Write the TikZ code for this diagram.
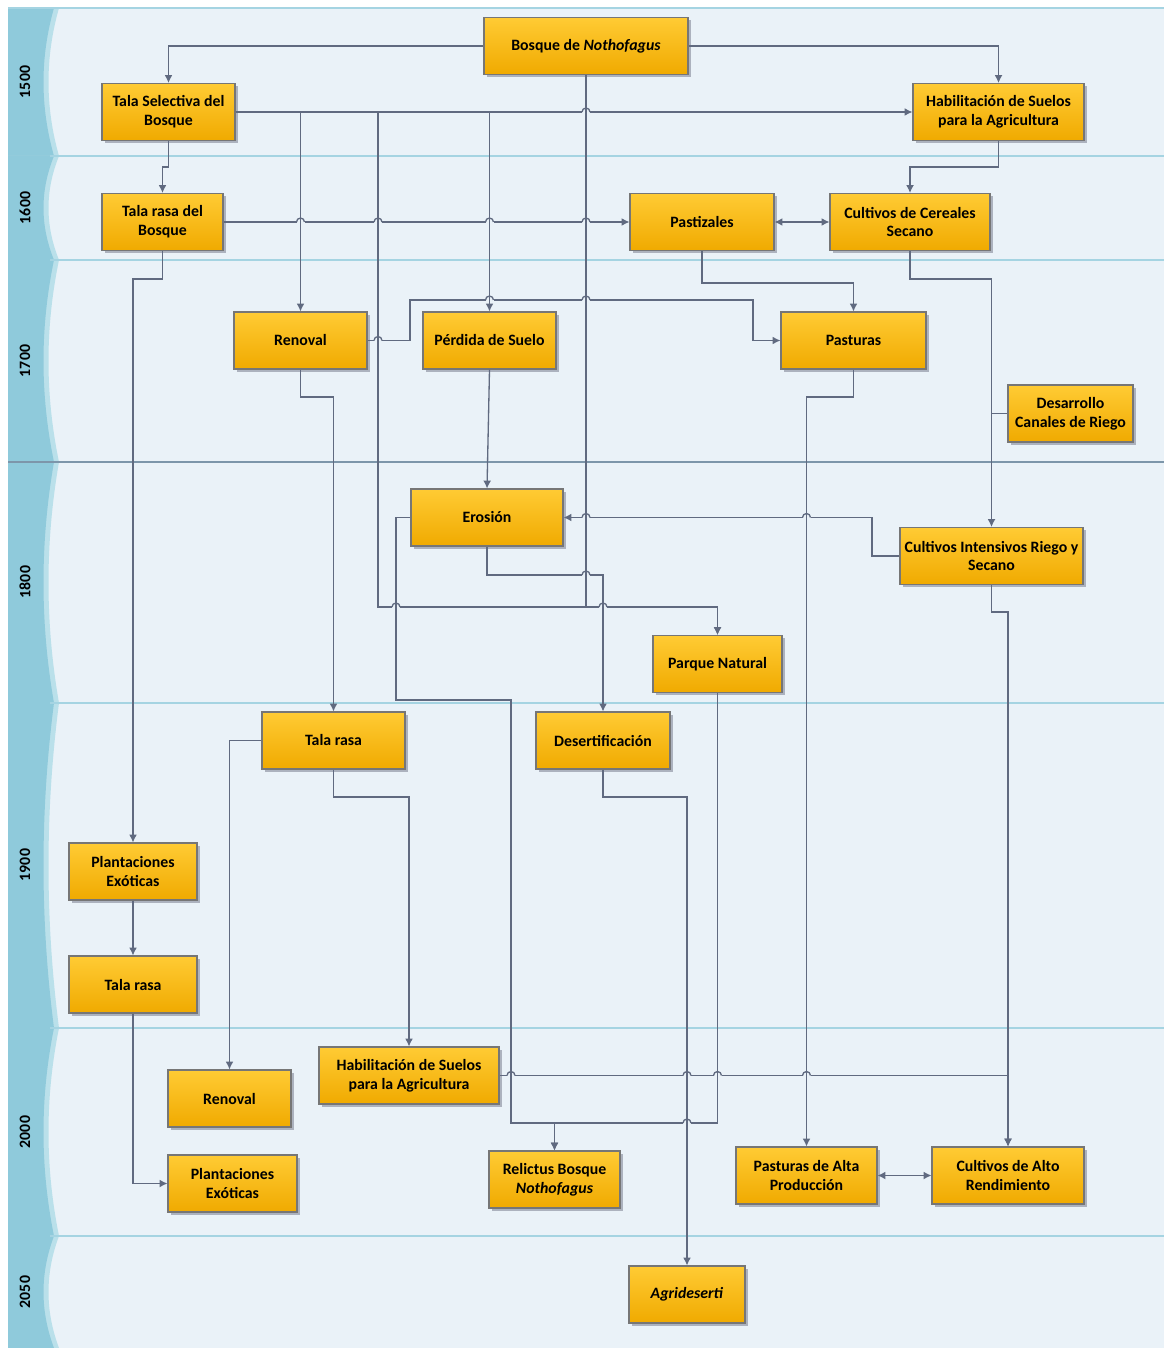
\documentclass[tikz,border=0pt]{standalone}
\usepackage{fontspec}
\setmainfont{Carlito}
\usetikzlibrary{shadows,arrows.meta}

\definecolor{lanebg}{RGB}{234,242,248}
\definecolor{hdrdark}{RGB}{143,202,219}
\definecolor{hdrlight}{RGB}{186,224,234}
\definecolor{sepc}{RGB}{165,212,226}
\definecolor{sepdark}{RGB}{125,150,170}
\definecolor{linkc}{RGB}{96,106,128}
\definecolor{boxtop}{RGB}{255,203,52}
\definecolor{boxbot}{RGB}{240,170,0}
\definecolor{boxline}{RGB}{118,118,118}
\definecolor{shadowc}{RGB}{172,178,190}

% line hop: horizontal line jumps over a vertical one
\newcommand{\hop}[2]{%
  \fill[lanebg] (#1-4,#2-1.3) rectangle (#1+4,#2+1.3);
  \draw[link] (#1,#2-3) -- (#1,#2+3);
  \draw[link] (#1-4,#2) arc[start angle=180,end angle=0,radius=2.27pt];
}

\begin{document}
\begin{tikzpicture}[x=0.02cm, y=-0.02cm,
  box/.style={draw=boxline, line width=0.6pt, top color=boxtop, bottom color=boxbot,
    minimum height=1.14cm, align=center, inner sep=1pt,
    font=\fontsize{9}{10.8}\selectfont\bfseries,
    drop shadow={shadow xshift=1.7pt, shadow yshift=-1.7pt, fill=shadowc, opacity=1}},
  wd/.style={minimum width=#1*0.02cm},
  link/.style={draw=linkc, line width=0.75pt},
  flow/.style={link, ->},
  yearlbl/.style={rotate=90, font=\fontsize{9}{10}\selectfont\bfseries},
  >={Latex[length=4.5pt,width=4.5pt]}]

\useasboundingbox (0,0) rectangle (1164,1348);

% Lanes
\fill[lanebg] (8,8) rectangle (1164,1348);
\foreach \t/\b in {8/156, 156/260, 260/462, 462/703, 703/1028, 1028/1236, 1236/1348} {
  \fill[hdrlight] (8,\t) -- (59,\t) .. controls (45,{\t+(\b-\t)/3}) and (45,{\b-(\b-\t)/3}) .. (59,\b) -- (8,\b) -- cycle;
  \fill[hdrdark] (8,\t) -- (54,\t) .. controls (40,{\t+(\b-\t)/3}) and (40,{\b-(\b-\t)/3}) .. (54,\b) -- (8,\b) -- cycle;
}
\draw[sepc, line width=0.8pt] (8,8) -- (1164,8);
\foreach \yy in {156,260,703,1028,1236}
  \draw[sepc, line width=0.7pt] (50,\yy) -- (1164,\yy);
\draw[sepdark, line width=1pt] (8,462) -- (1164,462);

\node[yearlbl] (l1500) at (25,82) {1500};
\node[yearlbl] (l1600) at (25,208) {1600};
\node[yearlbl] (l1700) at (25,361) {1700};
\node[yearlbl] (l1800) at (25,582) {1800};
\node[yearlbl] (l1900) at (25,865) {1900};
\node[yearlbl] (l2000) at (25,1132) {2000};
\node[yearlbl] (l2050) at (25,1292) {2050};

% Boxes
\node[box, wd=204] (bosque) at (586,46) {Bosque de \textit{Nothofagus}};
\node[box, wd=133] (tsel) at (168.5,112) {Tala Selectiva del\\Bosque};
\node[box, wd=171] (habA) at (998.5,112) {Habilitación de Suelos\\para la Agricultura};
\node[box, wd=121] (trb) at (162.5,222) {Tala rasa del\\Bosque};
\node[box, wd=144] (pastiz) at (702,222) {Pastizales};
\node[box, wd=160] (cereal) at (910,222) {Cultivos de Cereales\\Secano};
\node[box, wd=133] (renA) at (300.5,340.5) {Renoval};
\node[box, wd=133] (perd) at (489.5,340.5) {Pérdida de Suelo};
\node[box, wd=145] (past) at (853.5,340.5) {Pasturas};
\node[box, wd=125] (canal) at (1070.5,413.5) {Desarrollo\\Canales de Riego};
\node[box, wd=152] (eros) at (487,517.5) {Erosión};
\node[box, wd=183] (cint) at (991.5,556) {Cultivos Intensivos Riego y\\Secano};
\node[box, wd=129] (parque) at (717.5,664) {Parque Natural};
\node[box, wd=143] (trA) at (333.5,740.5) {Tala rasa};
\node[box, wd=134] (desert) at (603,740.5) {Desertificación};
\node[box, wd=128] (plantA) at (133,871.5) {Plantaciones\\Exóticas};
\node[box, wd=128] (trB) at (133,984.5) {Tala rasa};
\node[box, wd=180] (habB) at (409,1075.5) {Habilitación de Suelos\\para la Agricultura};
\node[box, wd=123] (renB) at (229.5,1098.5) {Renoval};
\node[box, wd=129] (plantB) at (232.5,1183.5) {Plantaciones\\Exóticas};
\node[box, wd=131] (relic) at (554.5,1179.5) {Relictus Bosque\\\textit{Nothofagus}};
\node[box, wd=141] (pastAlta) at (806.5,1175.5) {Pasturas de Alta\\Producción};
\node[box, wd=152] (cultAlto) at (1008,1175.5) {Cultivos de Alto\\Rendimiento};
\node[box, wd=116] (agri) at (687,1294.5) {\textit{Agrideserti}};

% Connectors
\draw[flow] (bosque.west) -| (tsel.north);
\draw[flow] (bosque.east) -| (habA.north);
\draw[flow] (bosque.south) -- (586,607) -| (parque.north);
\draw[flow] (tsel.east) -- (habA.west);
\draw[flow] (tsel.east) -| (renA.north);
\draw[flow] (tsel.east) -| (perd.north);
\draw[flow] (tsel.east) -- (378,112) -- (378,607) -| (parque.north);
\draw[flow] (tsel.south) -- (168.5,167) -| (trb.north);
\draw[flow] (habA.south) -- (998.5,167) -| (cereal.north);
\draw[flow] (trb.east) -- (pastiz.west);
\draw[flow] (trb.south) -- (162.5,279) -| (plantA.north);
\draw[flow, <->] (pastiz.east) -- (cereal.west);
\draw[flow] (pastiz.south) -- (702,283) -| (past.north);
\draw[flow] (cereal.south) -- (910,279) -| (cint.north);
\draw[link] (canal.west) -- (cint.north |- canal.west);
\draw[flow] (renA.east) -- (410,340.5) |- (753,300) |- (past.west);
\draw[flow] (renA.south) -- (300.5,397) -| (trA.north);
\draw[flow] (perd.south) -- (eros.north);
\draw[flow] (cint.west) -- (872,556) |- (eros.east);
\draw[flow] (eros.south) -- (487,575) -| (desert.north);
\draw[flow] (eros.west) -- (396,517.5) -- (396,700) -| (511,1123) -| (relic.north);
\draw[flow] (parque.south) -- (717.5,1123) -| (relic.north);
\draw[flow] (past.south) -- (853.5,397) -| (pastAlta.north);
\draw[flow] (trA.west) -| (renB.north);
\draw[flow] (trA.south) -- (333.5,797) -| (habB.north);
\draw[flow] (desert.south) -- (603,797) -| (agri.north);
\draw[flow] (plantA.south) -- (trB.north);
\draw[flow] (trB.south) |- (plantB.west);
\draw[flow] (habB.east) -| (cultAlto.north);
\draw[flow] (cint.south) -- (991.5,612) -| (cultAlto.north);
\draw[flow, <->] (pastAlta.east) -- (cultAlto.west);

% Hops
\foreach \hx/\hy in {586/112, 300.5/222, 378/222, 489.5/222, 586/222, 489.5/300, 586/300,
  378/340.5, 806.5/517.5, 586/517.5, 586/575, 396/607, 603/607,
  511/1075.5, 687/1075.5, 717.5/1075.5, 806.5/1075.5, 687/1123}
  \hop{\hx}{\hy};

\end{tikzpicture}
\end{document}
